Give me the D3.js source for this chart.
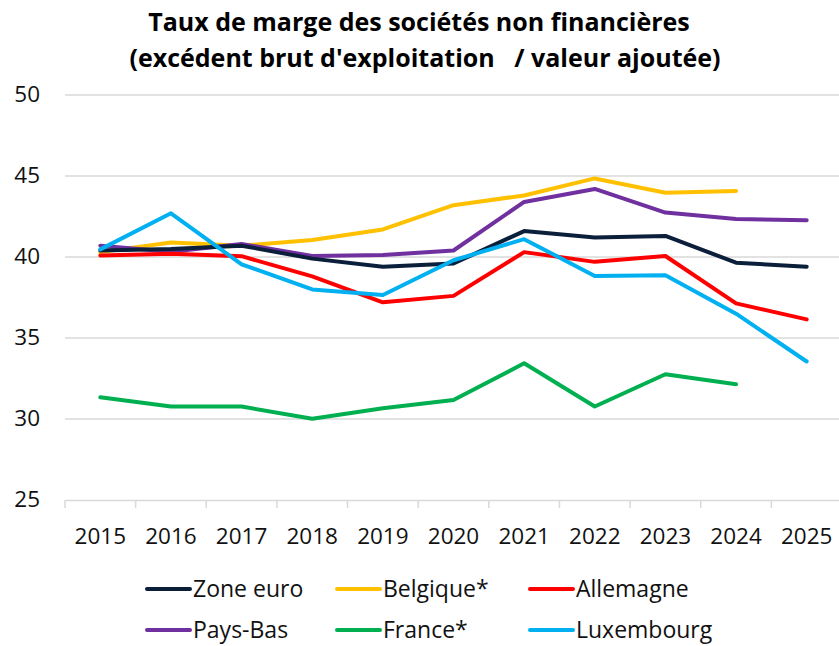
<!DOCTYPE html>
<html><head><meta charset="utf-8">
<script src="https://cdn.jsdelivr.net/npm/d3@7"></script>
<style>body{margin:0;background:#fff}svg{display:block;font-family:"Open Sans",sans-serif}</style>
</head><body><svg id="c" width="839" height="646"></svg>
<script>
const years = ["2015","2016","2017","2018","2019","2020","2021","2022","2023","2024","2025"];
const yTicks = [25,30,35,40,45,50];
const zoneEuro   = [40.4,40.5,40.7,39.9,39.4,39.6,41.6,41.2,41.3,39.65,39.4];
const belgique   = [40.3,40.9,40.7,41.05,41.7,43.2,43.8,44.85,43.97,44.07,null];
const allemagne  = [40.1,40.2,40.05,38.8,37.2,37.6,40.3,39.7,40.06,37.14,36.15];
const paysBas    = [40.7,40.33,40.8,40.06,40.12,40.4,43.4,44.2,42.74,42.35,42.27];
const france     = [31.34,30.77,30.77,30.02,30.66,31.17,33.44,30.77,32.76,32.14,null];
const luxembourg = [40.47,42.7,39.55,38.0,37.65,39.8,41.1,38.83,38.87,36.5,33.55];
const seriesNames = ["Zone euro","Belgique*","Allemagne","Pays-Bas","France*","Luxembourg"];
const seriesData = [zoneEuro,belgique,allemagne,paysBas,france,luxembourg];
const colors = ["#0b1e3a","#ffc000","#ff0000","#7030a0","#00b050","#00b0f0"];
const drawOrder = [1,3,0,2,5,4];

const svg = d3.select("#c");
const x = d3.scaleBand().domain(years).range([65,842]);
const y = d3.scaleLinear().domain([25,50]).range([500,95]);

svg.append("text").attr("x",419).attr("y",31).attr("text-anchor","middle")
  .attr("font-weight","bold").attr("font-size","25px").attr("fill","#000").text("Taux de marge des sociétés non financières");
svg.append("text").attr("x",425).attr("y",67).attr("text-anchor","middle")
  .attr("font-weight","bold").attr("font-size","25px").attr("fill","#000").attr("xml:space","preserve")
  .style("white-space","pre").text("(excédent brut d'exploitation   / valeur ajoutée)");

// gridlines
svg.append("g").selectAll("line").data(yTicks.filter(d=>d>25)).join("line")
  .attr("x1",65).attr("x2",839).attr("y1",d=>y(d)).attr("y2",d=>y(d))
  .attr("stroke","#d9d9d9").attr("stroke-width",1.5);

// y axis labels
const ya = svg.append("g").attr("transform","translate(40,0)")
  .call(d3.axisLeft(y).tickValues(yTicks).tickSize(0).tickPadding(0));
ya.select(".domain").remove();
ya.selectAll("text").attr("font-size","22.5px").attr("fill","#111").attr("font-family","Open Sans")
  .attr("dy","0.3em");

// x axis
const xa = svg.append("g").attr("transform","translate(0,500)")
  .call(d3.axisBottom(x).tickSize(0));
xa.select(".domain").attr("stroke","#d9d9d9").attr("stroke-width",1.5);
xa.selectAll("text").attr("font-size","22.5px").attr("fill","#111").attr("font-family","Open Sans")
  .attr("y",44).attr("dy",null);
svg.append("g").selectAll("line").data(years.map(d=>x(d)).concat([x(years[years.length-1])+x.bandwidth()]))
  .join("line").attr("x1",d=>d).attr("x2",d=>d).attr("y1",500).attr("y2",508)
  .attr("stroke","#d9d9d9").attr("stroke-width",1.5);

const line = d3.line().defined(d=>d!=null)
  .x((d,i)=>x(years[i])+x.bandwidth()/2).y(d=>y(d));
drawOrder.forEach(k=>{
  svg.append("path").datum(seriesData[k]).attr("d",line)
    .attr("fill","none").attr("stroke",colors[k]).attr("stroke-width",4)
    .attr("stroke-linejoin","round").attr("stroke-linecap","round");
});

// legend
const legX = [147,337,530], legY = [589,630];
seriesNames.forEach((n,i)=>{
  const lx = legX[i%3], ly = legY[Math.floor(i/3)];
  svg.append("line").attr("x1",lx).attr("x2",lx+43).attr("y1",ly).attr("y2",ly)
    .attr("stroke",colors[i]).attr("stroke-width",4).attr("stroke-linecap","round");
  svg.append("text").attr("x",lx+46).attr("y",ly+8).attr("font-size","23px").attr("fill","#111").text(n);
});
</script></body></html>
